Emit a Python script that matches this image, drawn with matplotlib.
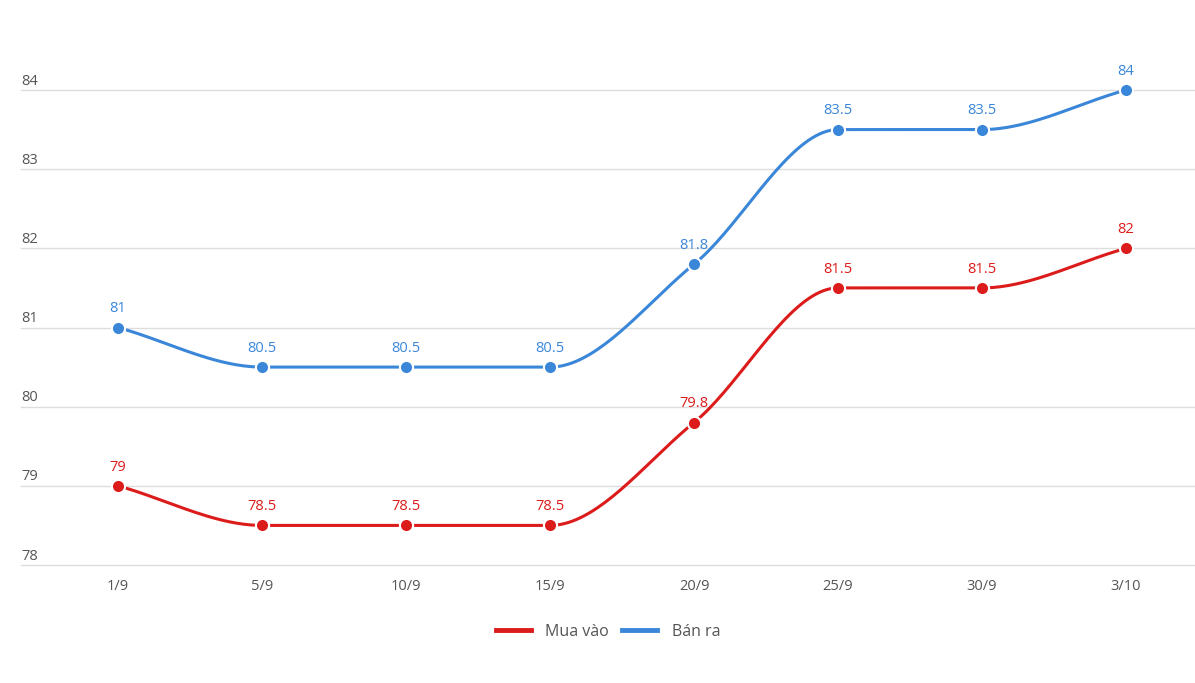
import matplotlib
matplotlib.use("Agg")
import matplotlib.pyplot as plt
import numpy as np

dates = ["1/9", "5/9", "10/9", "15/9", "20/9", "25/9", "30/9", "3/10"]
mua_vao = [79, 78.5, 78.5, 78.5, 79.8, 81.5, 81.5, 82]
ban_ra = [81, 80.5, 80.5, 80.5, 81.8, 83.5, 83.5, 84]
yticks = [78, 79, 80, 81, 82, 83, 84]

red = "#dc1b1b"
blue = "#3a86d8"
grey = "#555555"


def monotone(x, y, n=40):
    # Fritsch-Carlson monotone cubic, like the smooth line in the source chart
    x = np.asarray(x, float)
    y = np.asarray(y, float)
    h = np.diff(x)
    d = np.diff(y) / h
    m = np.zeros_like(y)
    m[0], m[-1] = d[0], d[-1]
    for i in range(1, len(y) - 1):
        if d[i - 1] * d[i] <= 0:
            m[i] = 0
        else:
            m[i] = 3 * (h[i - 1] + h[i]) / ((2 * h[i] + h[i - 1]) / d[i - 1] + (h[i] + 2 * h[i - 1]) / d[i])
    xs, ys = [], []
    for i in range(len(h)):
        t = np.linspace(0, 1, n)
        h00 = 2 * t**3 - 3 * t**2 + 1
        h10 = t**3 - 2 * t**2 + t
        h01 = -2 * t**3 + 3 * t**2
        h11 = t**3 - t**2
        xs.append(x[i] + t * h[i])
        ys.append(h00 * y[i] + h10 * h[i] * m[i] + h01 * y[i + 1] + h11 * h[i] * m[i + 1])
    return np.concatenate(xs), np.concatenate(ys)


plt.rcParams["font.family"] = ["Open Sans", "DejaVu Sans"]
fig = plt.figure(figsize=(11.95, 6.83), dpi=100)
ax = fig.add_axes([21 / 1195, 1 - 565 / 683, 1 - 21 / 1195, 475 / 683])

x = np.arange(len(dates))
for vals, col, name in [(mua_vao, red, "Mua vào"), (ban_ra, blue, "Bán ra")]:
    sx, sy = monotone(x, vals)
    ax.plot(sx, sy, color=col, lw=2.2, label=name, clip_on=False, zorder=3)
    ax.plot(x, vals, "o", color=col, ms=9.5, mec="white", mew=1.5, clip_on=False, zorder=4)
    for xi, v in zip(x, vals):
        ax.annotate(f"{v:g}", (xi, v), xytext=(0, 8), textcoords="offset points",
                    ha="center", va="bottom", color=col, fontsize=10.5)

ax.set_xlim(-0.674, 7.479)
ax.set_ylim(78, 84)
for v in yticks:
    ax.axhline(v, color="#dddddd", lw=1, zorder=0, clip_on=False)
    ax.annotate(str(v), (0, v), xycoords=("axes fraction", "data"), xytext=(0, 1),
                textcoords="offset points", ha="left", va="bottom", color=grey, fontsize=10.5)
ax.set_yticks([])
ax.set_xticks(x)
ax.set_xticklabels(dates, color=grey, fontsize=10.5)
ax.tick_params(axis="x", length=0, pad=10)
for s in ax.spines.values():
    s.set_visible(False)

leg = fig.legend(loc="center", bbox_to_anchor=(608 / 1195, 1 - 632 / 683), ncol=2, frameon=False,
                 fontsize=11.5, handlelength=2.2, handletextpad=0.9, columnspacing=0.8)
for line in leg.get_lines():
    line.set_linewidth(3.5)
for t in leg.get_texts():
    t.set_color(grey)

fig.savefig("out.png", dpi=100)
